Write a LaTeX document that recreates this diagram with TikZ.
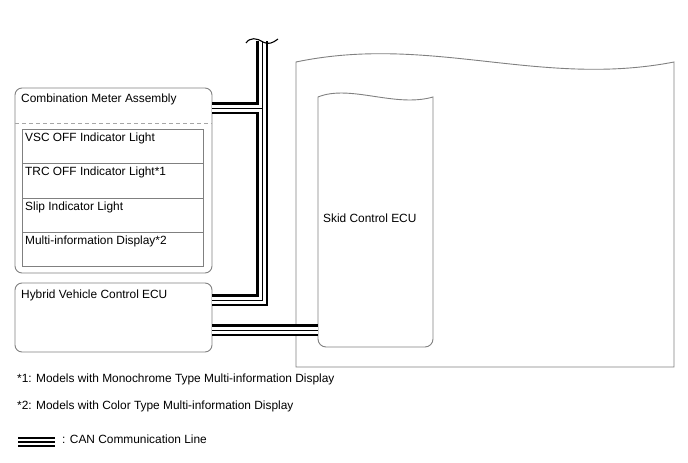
\documentclass[tikz,border=0pt]{standalone}
\usepackage{fontspec}
\setmainfont{Liberation Sans}
\begin{document}
\begin{tikzpicture}[x=1pt,y=-1pt,
  outl/.style={draw=black!50, line width=0.9pt},
  rbox/.style={outl, rounded corners=7pt, minimum width=197pt, anchor=north west, inner sep=0pt, outer sep=0pt},
  rowbox/.style={draw=black!50, line width=0.8pt, minimum width=181pt, anchor=north west, inner sep=0pt, outer sep=0pt},
  lbl/.style={anchor=base west, inner sep=0pt, font=\fontsize{11.9}{14}\selectfont},
  canA/.style={line width=12pt, black, line join=miter},
  canB/.style={line width=7pt, white, line join=miter},
  canC/.style={line width=1pt, black, line join=miter},
  legA/.style={line width=10pt, black},
  legB/.style={line width=5.6pt, white},
  legC/.style={line width=1.1pt, black},
]
\useasboundingbox (0,0) rectangle (688,463);

% boxes
\node[rbox, minimum height=185pt] (cma) at (15,88) {};
\node[rbox, minimum height=69pt] (hv) at (15,283) {};
\node[rowbox, minimum height=34pt] (r1) at (22,129) {};
\node[rowbox, minimum height=35pt] (r2) at (22,163) {};
\node[rowbox, minimum height=34pt] (r3) at (22,198) {};
\node[rowbox, minimum height=34pt] (r4) at (22,232) {};

\coordinate (dl) at (15,123);
\coordinate (dr) at (212,123);
\draw[black!35, line width=0.9pt, dash pattern=on 4pt off 3pt] (dl) -- (dr);

% texts
\node[lbl] (t0) at (21,102) {Combination Meter Assembly};
\node[lbl] (t1) at ([shift={(3,12)}]r1.north west) {VSC OFF Indicator Light};
\node[lbl] (t2) at ([shift={(3,12)}]r2.north west) {TRC OFF Indicator Light*1};
\node[lbl] (t3) at ([shift={(3,12)}]r3.north west) {Slip Indicator Light};
\node[lbl] (t4) at ([shift={(3,12)}]r4.north west) {Multi-information Display*2};
\node[lbl] (t5) at (21,298) {Hybrid Vehicle Control ECU};

% skid control ECU
\draw[outl] (296,367) -- (296,62) .. controls (430,34) and (540,88) .. (674,62) -- (674,367) -- cycle;
\draw[outl] (318,97) .. controls (350,84) and (395,108) .. (433,97) -- (433,339)
  arc[start angle=0, end angle=-90, radius=8pt] -- (326,347)
  arc[start angle=270, end angle=180, radius=8pt] -- cycle;
\node[lbl] (skt) at (323,222) {Skid Control ECU};

% CAN lines
\coordinate (btop) at (262,41);
\coordinate (bbot) at (262,300);
\coordinate (mj) at (262,108);
\coordinate (sk) at (318,330);
\foreach \s in {canA,canB,canC}{
  \draw[\s] (btop) -- (bbot) -- (hv.east |- bbot);
  \draw[\s] (cma.east |- mj) -- (mj);
  \draw[\s] (hv.east |- sk) -- (sk);
}
% break mark
\draw[black, line width=1.1pt] (246,43) .. controls (250,37) and (257,38) .. (263,42) .. controls (268,45) and (273,43) .. (278,39);

% notes
\node[lbl] (n1) at (17,382) {*1: Models with Monochrome Type Multi-information Display};
\node[lbl] (n2) at (17,409) {*2: Models with Color Type Multi-information Display};
\coordinate (la) at (18,442);
\coordinate (lb) at (55,442);
\foreach \s in {legA,legB,legC}{ \draw[\s] (la) -- (lb); }
\node[lbl] (lt) at (62,443) {: CAN Communication Line};
\end{tikzpicture}
\end{document}
